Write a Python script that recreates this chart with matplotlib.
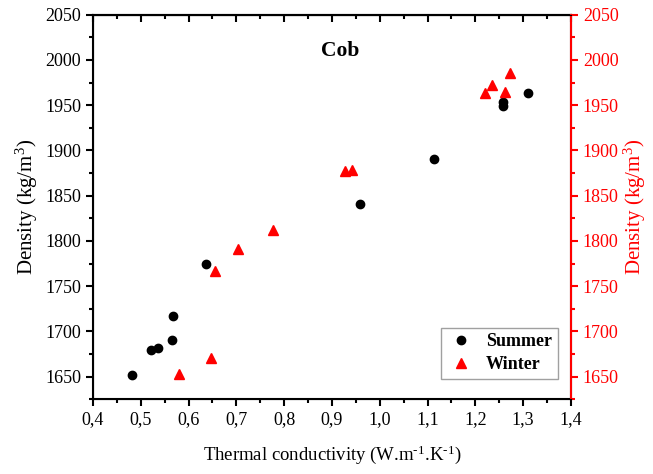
import numpy as np
import matplotlib.pyplot as plt
from matplotlib.ticker import MultipleLocator, FuncFormatter

plt.rcParams['font.family'] = ['Liberation Serif', 'DejaVu Serif']
plt.rcParams['mathtext.fontset'] = 'custom'
plt.rcParams['mathtext.rm'] = 'Liberation Serif'
plt.rcParams['mathtext.it'] = 'Liberation Serif:italic'

# Summer samples
summer_k = [0.481, 0.521, 0.536, 0.565, 0.567, 0.637, 0.958, 1.114, 1.257, 1.257, 1.310]
summer_rho = [1652, 1680, 1682, 1691, 1717, 1774, 1841, 1891, 1954, 1949, 1964]

# Winter samples
winter_k = [0.579, 0.647, 0.656, 0.703, 0.776, 0.927, 0.942, 1.220, 1.234, 1.263, 1.273]
winter_rho = [1653, 1671, 1767, 1791, 1812, 1877, 1878, 1963, 1972, 1965, 1986]

fig = plt.figure(figsize=(6.53, 4.74), dpi=100)
ax = fig.add_axes([0.1424, 0.1576, 0.732, 0.8114])

ax.plot(summer_k, summer_rho, 'o', color='black', markersize=6, label='Summer')
ax.plot(winter_k, winter_rho, '^', color='red', markersize=7, label='Winter')

ax.set_xlim(0.4, 1.4)
ax.set_ylim(1625, 2050)
ax.xaxis.set_major_locator(MultipleLocator(0.1))
ax.xaxis.set_minor_locator(MultipleLocator(0.05))
ax.yaxis.set_major_locator(MultipleLocator(50))
ax.yaxis.set_minor_locator(MultipleLocator(25))
ax.xaxis.set_major_formatter(FuncFormatter(lambda v, p: f"{v:.1f}".replace('.', ',')))

ax.tick_params(axis='x', which='both', direction='out', top=False, labelsize=13)
ax.tick_params(axis='y', which='both', direction='out', right=False, labelsize=13)
ax.tick_params(which='major', length=5, width=1.5)
ax.tick_params(which='minor', length=3, width=1.5)
for s in ax.spines.values():
    s.set_linewidth(1.5)

# top ticks pointing inward
sec = ax.secondary_xaxis('top')
sec.xaxis.set_major_locator(MultipleLocator(0.1))
sec.xaxis.set_minor_locator(MultipleLocator(0.05))
sec.tick_params(which='both', direction='in', labeltop=False, width=1.5)
sec.tick_params(which='major', length=5)
sec.tick_params(which='minor', length=3)
sec.spines['top'].set_linewidth(1.5)

ax.set_xlabel('Thermal conductivity (W.m$^{\u2010 1}$.K$^{\u2010 1}$)', fontsize=13.5, labelpad=11)
ax.set_ylabel('Density (kg/m$^3$)', fontsize=15, labelpad=4)

ax2 = ax.twinx()
ax2.set_ylim(1625, 2050)
ax2.yaxis.set_major_locator(MultipleLocator(50))
ax2.yaxis.set_minor_locator(MultipleLocator(25))
ax2.tick_params(axis='y', which='both', colors='red', direction='out', labelsize=13, width=1.5)
ax2.tick_params(which='major', length=5)
ax2.tick_params(which='minor', length=3)
ax2.spines['right'].set_color('red')
ax2.spines['right'].set_linewidth(1.5)
ax2.set_ylabel('Density (kg/m$^3$)', color='red', fontsize=15, labelpad=2)

ax.text(0.518, 0.905, 'Cob', transform=ax.transAxes, ha='center', va='center',
        fontsize=15.5, fontweight='bold')

leg = ax.legend(loc='lower right', bbox_to_anchor=(0.972, 0.053), borderaxespad=0,
                fancybox=False, edgecolor='#888888', prop={'weight': 'bold', 'size': 13},
                handletextpad=0.6, borderpad=0.3, labelspacing=0.35, handlelength=1.6)
leg.get_frame().set_linewidth(1.0)

fig.savefig('out.png', dpi=100)
